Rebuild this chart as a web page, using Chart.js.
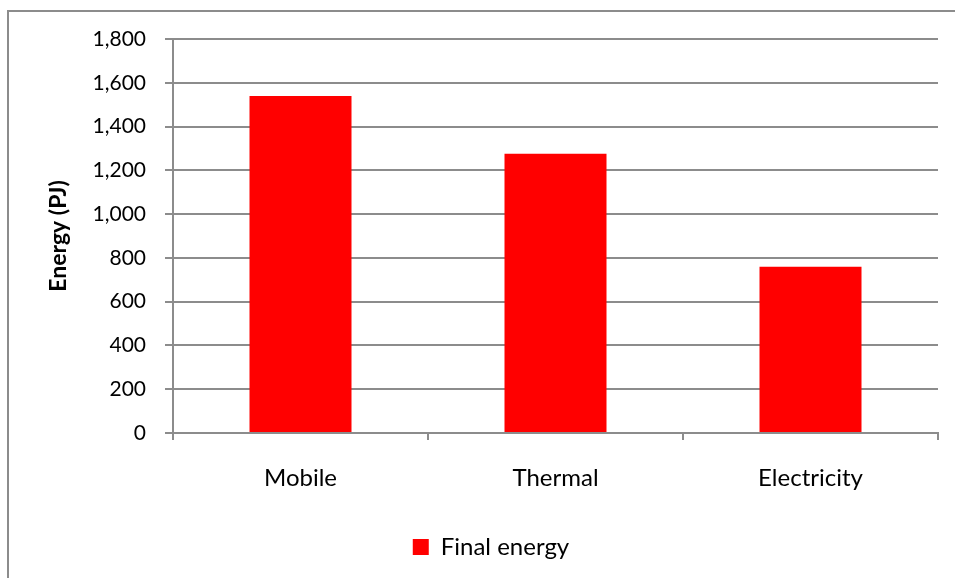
<!DOCTYPE html>
<html>
<head>
<meta charset="utf-8">
<script src="https://cdn.jsdelivr.net/npm/chart.js@4"></script>
<style>
  html, body { margin: 0; padding: 0; background: #ffffff; }
  #wrap { position: relative; width: 955px; height: 578px; }
  canvas { display: block; }
</style>
</head>
<body>
<div id="wrap"><canvas id="c" width="955" height="578"></canvas></div>
<script>
const categories = ["Mobile", "Thermal", "Electricity"];
const seriesName = "Final energy";
const finalEnergy = [1540, 1276, 759];
const yMin = 0;
const yMax = 1800;
const yStep = 200;

const frame = {
  id: 'frame',
  beforeDraw(chart) {
    const ctx = chart.ctx;
    ctx.save();
    ctx.strokeStyle = '#8c8c8c';
    ctx.lineWidth = 2;
    ctx.beginPath();
    ctx.moveTo(8, 600);
    ctx.lineTo(8, 11);
    ctx.lineTo(970, 11);
    ctx.stroke();
    ctx.restore();
  }
};

// the original chart frame runs past the right edge, so its legend sits right of the canvas centre
const legendShift = {
  id: 'legendShift',
  afterLayout(chart) {
    const lg = chart.legend;
    if (lg) { lg.left += 22; lg.right += 22; }
  }
};

const FONT = 'Lato, "Open Sans", sans-serif';

new Chart(document.getElementById('c'), {
  type: 'bar',
  data: {
    labels: categories,
    datasets: [{
      label: seriesName,
      data: finalEnergy,
      backgroundColor: '#ff0000',
      borderWidth: 0,
      categoryPercentage: 1.0,
      barPercentage: 0.4
    }]
  },
  options: {
    responsive: false,
    animation: false,
    layout: { padding: { left: 0, right: 17, top: 39, bottom: 9 } },
    plugins: {
      tooltip: { enabled: false },
      legend: {
        position: 'bottom',
        labels: {
          color: '#000000',
          font: { family: FONT, size: 24 },
          boxWidth: 16,
          boxHeight: 16,
          padding: 10
        }
      }
    },
    scales: {
      x: {
        grid: {
          display: true,
          offset: true,
          drawOnChartArea: false,
          drawTicks: true,
          tickLength: 7,
          color: '#8c8c8c',
          lineWidth: 2
        },
        border: { display: true, color: '#8c8c8c', width: 2 },
        ticks: {
          color: '#000000',
          font: { family: FONT, size: 24 },
          padding: 24,
          maxRotation: 0
        },
        afterFit(scale) { scale.height = 92; }
      },
      y: {
        min: yMin,
        max: yMax,
        ticks: {
          stepSize: yStep,
          color: '#000000',
          font: { family: FONT, size: 21 },
          padding: 19,
          callback: (v) => v.toLocaleString('en-US')
        },
        grid: {
          color: '#8c8c8c',
          lineWidth: 2,
          tickLength: 8,
          drawTicks: true
        },
        border: { display: true, color: '#8c8c8c', width: 2 },
        title: {
          display: true,
          text: 'Energy (PJ)',
          color: '#000000',
          font: { family: FONT, size: 23, weight: 'bold' },
          padding: { top: 45, bottom: 0 }
        },
        afterFit(scale) { scale.width = 173; }
      }
    }
  },
  plugins: [frame, legendShift]
});
</script>
</body>
</html>
